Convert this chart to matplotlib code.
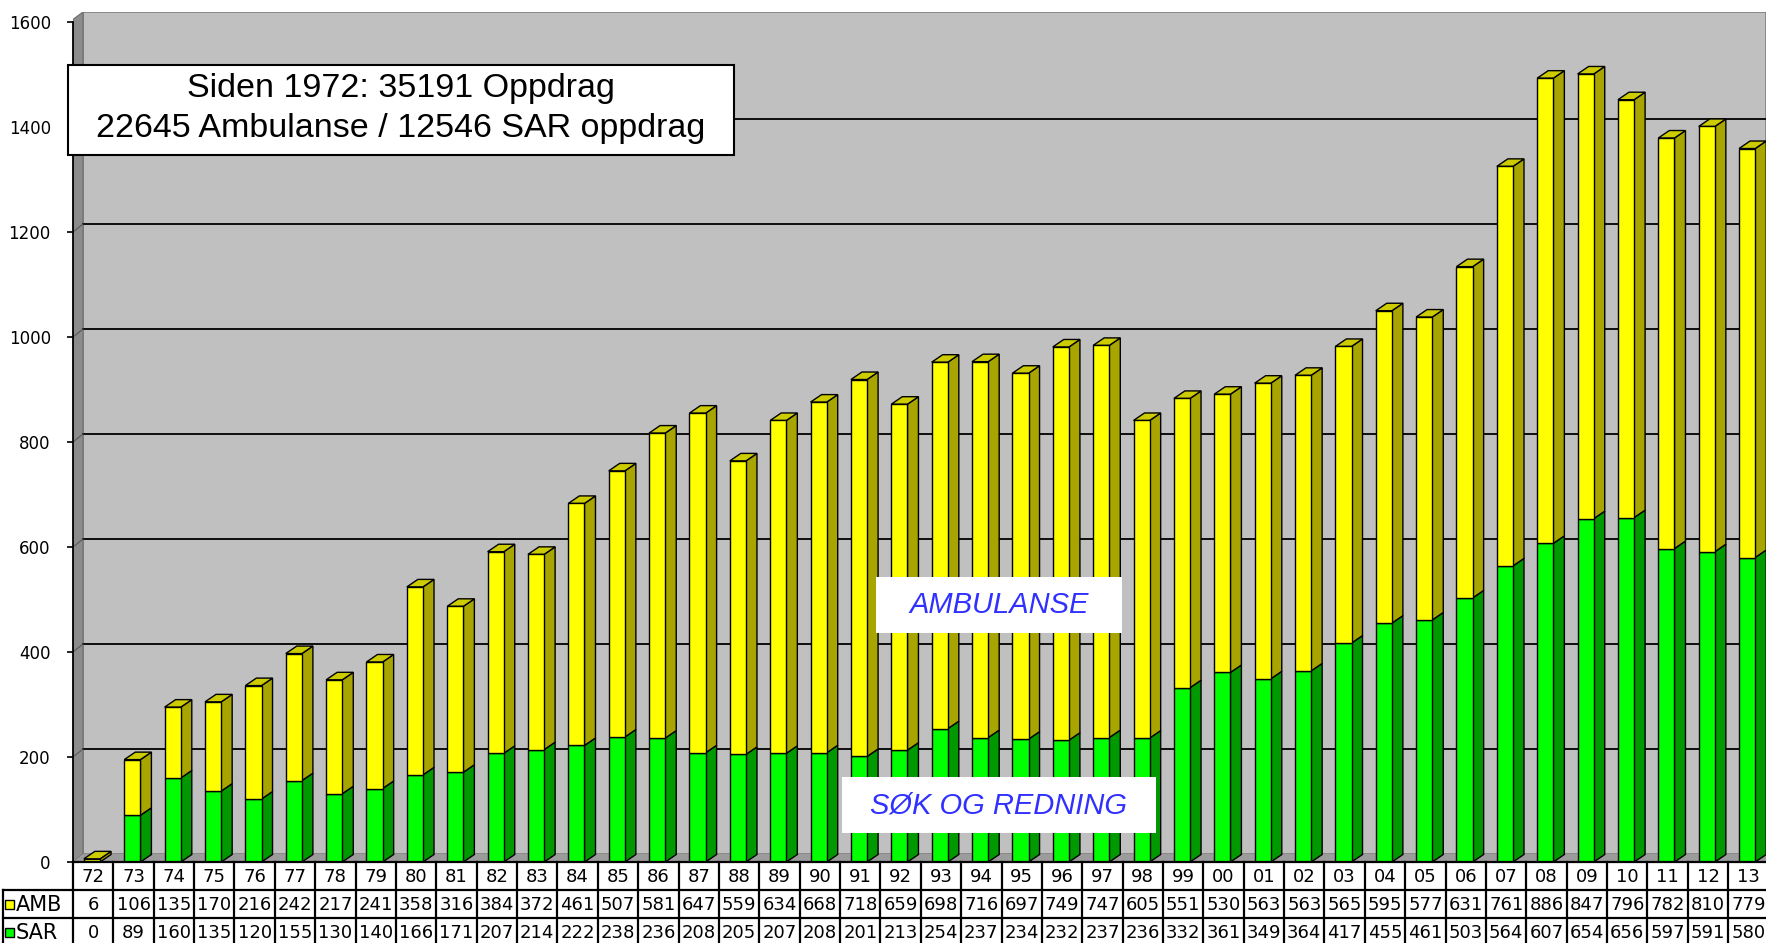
import matplotlib.pyplot as plt
from matplotlib.patches import Polygon, Rectangle

years = ["72", "73", "74", "75", "76", "77", "78", "79", "80", "81",
         "82", "83", "84", "85", "86", "87", "88", "89", "90", "91",
         "92", "93", "94", "95", "96", "97", "98", "99", "00", "01", "02",
         "03", "04", "05", "06", "07", "08", "09", "10", "11", "12", "13"]
amb = [6, 106, 135, 170, 216, 242, 217, 241, 358, 316,
       384, 372, 461, 507, 581, 647, 559, 634, 668, 718,
       659, 698, 716, 697, 749, 747, 605, 551, 530, 563, 563,
       565, 595, 577, 631, 761, 886, 847, 796, 782, 810, 779]
sar = [0, 89, 160, 135, 120, 155, 130, 140, 166, 171,
       207, 214, 222, 238, 236, 208, 205, 207, 208, 201,
       213, 254, 237, 234, 232, 237, 236, 332, 361, 349, 364,
       417, 455, 461, 503, 564, 607, 654, 656, 597, 591, 580]
yticks = [0, 200, 400, 600, 800, 1000, 1200, 1400, 1600]

# layout in pixels of the 1766x943 picture
W, H = 1766, 943
X0, COL = 73, 40.37       # left edge of first column, column width
Y0, PPU, TOP = 862, 0.525, 12   # zero line, px per unit, top of back wall

fig = plt.figure(figsize=(W / 100, H / 100), dpi=100)
fig.patch.set_facecolor("white")

ax = fig.add_axes([X0 / W, (H - Y0) / H, (W - X0) / W, (Y0 - TOP) / H])
xmax = (W - X0) / COL - 0.5
ymax = (Y0 - TOP) / PPU
ax.set_xlim(-0.5, xmax)
ax.set_ylim(0, ymax)
ax.patch.set_alpha(0)

wdx, wdy = 10 / COL, 8 / PPU     # depth of walls
bdx, bdy = 11 / COL, 7.5 / PPU   # depth of bars
bw = 0.40
boff = -0.03

# back wall, left wall, floor
xl = -0.5 + wdx
ax.add_patch(Rectangle((xl, wdy), xmax - xl, ymax - wdy, facecolor="#c0c0c0",
                       edgecolor="#808080", lw=1.2, zorder=0))
ax.add_patch(Polygon([(-0.5, 0), (-0.5, 1600 + 5), (xl, ymax), (xl, wdy)],
                     closed=True, facecolor="#8c8c8c", edgecolor="#6e6e6e",
                     lw=0.8, zorder=0.5))
ax.add_patch(Polygon([(-0.5, 0), (xl, wdy), (xmax + 1, wdy), (xmax + 1, 0)],
                     closed=True, facecolor="#9c9c9c", edgecolor="none", zorder=0.5))
for v in yticks[1:-1]:
    ax.plot([xl, xmax], [v + wdy, v + wdy], color="black", lw=1.3, zorder=0.8)
    ax.plot([-0.5, xl], [v, v + wdy], color="#5a5a5a", lw=0.8, zorder=0.8)


def box3d(x0, y0, y1, side, top, draw_top):
    x1 = x0 + bw
    ax.add_patch(Polygon([(x1, y0), (x1 + bdx, y0 + bdy), (x1 + bdx, y1 + bdy), (x1, y1)],
                         closed=True, facecolor=side, edgecolor="black", lw=1.0, zorder=2))
    if draw_top:
        ax.add_patch(Polygon([(x0, y1), (x0 + bdx, y1 + bdy), (x1 + bdx, y1 + bdy), (x1, y1)],
                             closed=True, facecolor=top, edgecolor="black", lw=1.0, zorder=2))


for i in range(len(years)):
    x0 = i + boff - bw / 2
    if sar[i] > 0:
        box3d(x0, 0, sar[i], "#009a00", "#00c800", False)
    box3d(x0, sar[i], sar[i] + amb[i], "#a8a400", "#cccc00", True)

xs = [i + boff for i in range(len(years))]
ax.bar(xs, sar, width=bw, color="#00ff00", edgecolor="black", lw=1.0, zorder=3)
ax.bar(xs, amb, width=bw, bottom=sar, color="#ffff00", edgecolor="black", lw=1.0, zorder=3)

for s in ["top", "right", "bottom"]:
    ax.spines[s].set_visible(False)
ax.spines["left"].set_bounds(0, 1600)
ax.spines["left"].set_linewidth(1.3)
ax.spines["left"].set_zorder(4)
ax.set_xticks([])
ax.set_yticks(yticks)
ax.tick_params(axis="y", direction="out", length=4, width=1.2, pad=12,
               labelsize=12)

# data table under the chart
RH = 28
tax = fig.add_axes([X0 / W, (H - Y0 - 3 * RH) / H, (W - X0) / W, 3 * RH / H])
tax.set_xlim(-0.5, xmax)
tax.set_ylim(3, 0)
tax.axis("off")
lab_left = (3 - X0) / COL - 0.5
tax.plot([-0.5, xmax + 1], [0, 0], color="black", lw=1.6, clip_on=False)
for r in [1, 2, 3]:
    tax.plot([lab_left, xmax + 1], [r, r], color="black", lw=1.6, clip_on=False)
for i in range(len(years) + 1):
    tax.plot([i - 0.5, i - 0.5], [0, 3], color="black", lw=1.6, clip_on=False)
tax.plot([lab_left, lab_left], [1, 3], color="black", lw=1.6, clip_on=False)

for i, yr in enumerate(years):
    tax.text(i, 0.55, yr, ha="center", va="center", fontsize=13, clip_on=False)
    tax.text(i, 1.55, str(amb[i]), ha="center", va="center", fontsize=13, clip_on=False)
    tax.text(i, 2.55, str(sar[i]), ha="center", va="center", fontsize=13, clip_on=False)

ks = 9 / COL
for r, name, col in [(1, "AMB", "#ffff00"), (2, "SAR", "#00ff00")]:
    tax.add_patch(Rectangle(((5 - X0) / COL - 0.5, r + 0.36), ks, 0.32,
                            facecolor=col, edgecolor="black", lw=1.0, clip_on=False))
    tax.text((16 - X0) / COL - 0.5, r + 0.55, name, ha="left", va="center",
             fontsize=15, clip_on=False)


def fx(px):
    return px / W


def fy(py):
    return 1 - py / H


# title box
fig.patches.append(Rectangle((fx(68), fy(155)), fx(734) - fx(68), fy(65) - fy(155),
                             transform=fig.transFigure, facecolor="white",
                             edgecolor="black", lw=1.5, zorder=5))
fig.text(fx(401), fy(88), "Siden 1972: 35191 Oppdrag", ha="center", va="center",
         fontsize=24.5, family="Liberation Sans", zorder=6)
fig.text(fx(401), fy(128), "22645 Ambulanse / 12546 SAR oppdrag", ha="center",
         va="center", fontsize=24.5, family="Liberation Sans", zorder=6)

# series labels
for (l, t, r, b), txt in [((876, 577, 1122, 633), "AMBULANSE"),
                          ((842, 777, 1156, 833), "SØK OG REDNING")]:
    fig.patches.append(Rectangle((fx(l), fy(b)), fx(r) - fx(l), fy(t) - fy(b),
                                 transform=fig.transFigure, facecolor="white",
                                 edgecolor="none", zorder=5))
    fig.text(fx((l + r) / 2), fy((t + b) / 2), txt, ha="center", va="center",
             fontsize=21, style="italic", color="#3030ff",
             family="Liberation Sans", zorder=6)

fig.savefig("out.png", dpi=100)
